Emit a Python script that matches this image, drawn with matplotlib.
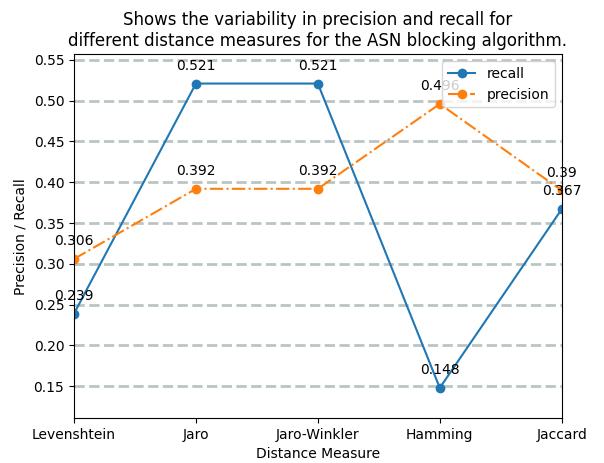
import matplotlib
matplotlib.use('Agg')
import matplotlib.pyplot as plt

measures = ['Levenshtein', 'Jaro', 'Jaro-Winkler', 'Hamming', 'Jaccard']
recall = [0.239, 0.521, 0.521, 0.148, 0.367]
precision = [0.306, 0.392, 0.392, 0.496, 0.39]


def main():
    fig = plt.figure(figsize=(6.04, 4.63), dpi=100)
    ax = fig.add_subplot()
    fig.subplots_adjust(left=0.1225, right=0.930, top=0.883, bottom=0.097)

    x = list(range(len(measures)))
    ax.plot(x, recall, 'o-', label='recall')
    ax.plot(x, precision, 'o-.', label='precision')

    for xi, v in zip(x, recall):
        ax.annotate(str(v), (xi, v), textcoords='offset points',
                    xytext=(0, 10), ha='center', annotation_clip=False)
    for xi, v in zip(x, precision):
        ax.annotate(str(v), (xi, v), textcoords='offset points',
                    xytext=(0, 10), ha='center', annotation_clip=False)

    ax.set_xticks(x)
    ax.set_xticklabels(measures)
    ax.set_xlim(0, 4)
    ax.set_ylim(0.111, 0.557)
    ax.yaxis.grid(True, color='#bac5c3', linestyle='--', linewidth=2)
    ax.set_axisbelow(True)
    ax.legend(loc='upper right')
    ax.set_title('Shows the variability in precision and recall for\n'
                 'different distance measures for the ASN blocking algorithm.')
    ax.set_xlabel('Distance Measure')
    ax.set_ylabel('Precision / Recall')

    fig.savefig('out.png', dpi=100)


if __name__ == '__main__':
    main()
